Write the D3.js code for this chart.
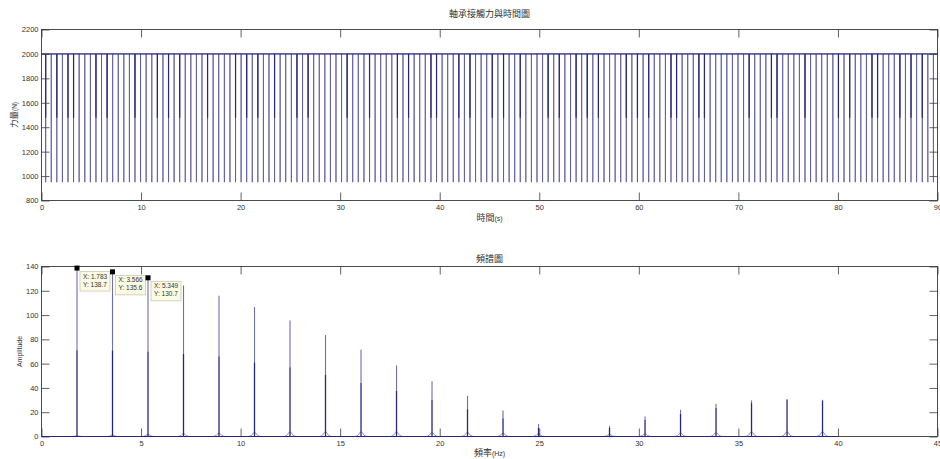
<!DOCTYPE html>
<html>
<head>
<meta charset="utf-8">
<script src="https://cdn.jsdelivr.net/npm/d3@7"></script>
<style>
  html, body { margin: 0; padding: 0; background: #fff; }
  svg { display: block; }
  text { font-family: "Liberation Sans", Arial, "Noto Sans CJK TC", sans-serif; fill: #333; }
  .cjk { font-family: "Noto Sans CJK TC", "Noto Sans CJK SC", sans-serif; }
</style>
</head>
<body>
<svg id="chart" width="940" height="459"></svg>
<script>
// ---- Contact force record: one dip per ball pass (s) ----
const pulseTimes = [
  0.42, 0.98, 1.54, 2.10, 2.66, 3.22, 3.78, 4.35, 4.91, 5.47,
  6.03, 6.59, 7.15, 7.71, 8.27, 8.83, 9.39, 9.95, 10.51, 11.08,
  11.64, 12.20, 12.76, 13.32, 13.88, 14.44, 15.00, 15.56, 16.12, 16.68,
  17.24, 17.80, 18.37, 18.93, 19.49, 20.05, 20.61, 21.17, 21.73, 22.29,
  22.85, 23.41, 23.97, 24.53, 25.10, 25.66, 26.22, 26.78, 27.34, 27.90,
  28.46, 29.02, 29.58, 30.14, 30.70, 31.26, 31.82, 32.39, 32.95, 33.51,
  34.07, 34.63, 35.19, 35.75, 36.31, 36.87, 37.43, 37.99, 38.55, 39.12,
  39.68, 40.24, 40.80, 41.36, 41.92, 42.48, 43.04, 43.60, 44.16, 44.72,
  45.28, 45.84, 46.41, 46.97, 47.53, 48.09, 48.65, 49.21, 49.77, 50.33,
  50.89, 51.45, 52.01, 52.57, 53.14, 53.70, 54.26, 54.82, 55.38, 55.94,
  56.50, 57.06, 57.62, 58.18, 58.74, 59.30, 59.86, 60.43, 60.99, 61.55,
  62.11, 62.67, 63.23, 63.79, 64.35, 64.91, 65.47, 66.03, 66.59, 67.16,
  67.72, 68.28, 68.84, 69.40, 69.96, 70.52, 71.08, 71.64, 72.20, 72.76,
  73.32, 73.88, 74.45, 75.01, 75.57, 76.13, 76.69, 77.25, 77.81, 78.37,
  78.93, 79.49, 80.05, 80.61, 81.18, 81.74, 82.30, 82.86, 83.42, 83.98,
  84.54, 85.10, 85.66, 86.22, 86.78, 87.34, 87.90, 88.47, 89.03, 89.59
];
// force levels (N): steady contact, intermediate sample, dip floor
const forceLevels = [2000, 1477, 950];
// dips whose record holds an intermediate sample on the way down
const stepPulses = [0, 2, 4, 5, 9, 11, 16, 20, 22, 24, 29, 34, 36, 38, 41, 45, 47,
  54, 58, 63, 65, 69, 70, 74, 76, 80, 82, 85, 90, 92, 95, 97, 99, 104,
  106, 108, 112, 113, 117, 118, 126, 130, 131, 136, 142, 144, 148, 149, 153, 155, 157];
const timeDomain = [0, 90];
const timeTicks = [0, 10, 20, 30, 40, 50, 60, 70, 80, 90];
const forceDomain = [800, 2200];
const forceTicks = [800, 1000, 1200, 1400, 1600, 1800, 2000, 2200];

// ---- Spectrum: harmonics of the ball-pass frequency ----
const harmonicFreq = [1.783, 3.566, 5.349, 7.132, 8.915, 10.698, 12.481, 14.264, 16.047, 17.830, 19.613,
  21.396, 23.179, 24.962, 26.745, 28.528, 30.311, 32.094, 33.877, 35.660, 37.443, 39.226];
const peakAmp = [138.7, 135.6, 130.7, 124.4, 116.0, 106.6, 95.6, 83.5, 71.4, 58.5, 45.6,
  33.5, 21.4, 10.2, 0, 8.8, 16.5, 22.0, 27.0, 29.7, 30.8, 30.2];
const shoulderAmp = [71.0, 71.0, 70.0, 68.0, 66.0, 61.0, 57.0, 51.0, 44.0, 37.6, 30.2,
  22.5, 15.1, 7.4, 0, 7.0, 13.8, 18.7, 23.4, 27.5, 30.2, 29.6];
const leakAmp = [0.5, 1.0, 1.5, 2.0, 2.5, 3.0, 3.5, 3.5, 3.5, 3.5, 3.0,
  3.0, 2.5, 2.0, 0, 1.5, 2.0, 2.5, 3.0, 3.5, 3.5, 3.5];
const spectrumRange = [0, 40];
const freqDomain = [0, 45];
const freqTicks = [0, 5, 10, 15, 20, 25, 30, 35, 40, 45];
const ampDomain = [0, 140];
const ampTicks = [0, 20, 40, 60, 80, 100, 120, 140];
const tipIndex = [0, 1, 2];

const titles = { top: "軸承接觸力與時間圖", bottom: "頻譜圖" };

// ---- drawing ----
const svg = d3.select("#chart");
const DARK = "#26267f";
const MID = "#5a5aa4";
const LIGHT = "#8a8abd";
const AXIS = "#3a3a3a";

const left = 41.5, right = 937.5;
const topPanel = { y0: 29.5, y1: 200.5 };
const botPanel = { y0: 266.5, y1: 436.5 };

function frame(g, x, y, y0, y1, xt, yt) {
  const tick = 8;
  g.append("g").attr("transform", `translate(0,${y1})`)
    .call(d3.axisBottom(x).tickValues(xt).tickSize(-tick).tickPadding(4).tickFormat(d3.format("d")))
    .call(a => a.select(".domain").remove());
  g.append("g").attr("transform", `translate(0,${y0})`)
    .call(d3.axisTop(x).tickValues(xt).tickSize(-tick).tickFormat(""))
    .call(a => a.select(".domain").remove());
  g.append("g").attr("transform", `translate(${left},0)`)
    .call(d3.axisLeft(y).tickValues(yt).tickSize(-tick).tickPadding(3).tickFormat(d3.format("d")))
    .call(a => a.select(".domain").remove());
  g.append("g").attr("transform", `translate(${right},0)`)
    .call(d3.axisRight(y).tickValues(yt).tickSize(-tick).tickFormat(""))
    .call(a => a.select(".domain").remove());
  g.selectAll(".tick line").attr("stroke", AXIS).attr("stroke-width", 0.8);
  g.selectAll(".tick text").attr("font-size", 7.5).attr("fill", "#333")
    .attr("font-family", "'Liberation Sans', Arial, sans-serif");
  g.append("rect")
    .attr("x", left).attr("y", y0).attr("width", right - left).attr("height", y1 - y0)
    .attr("fill", "none").attr("stroke", AXIS).attr("stroke-width", 0.9);
}

// ---- top panel: force vs time ----
{
  const g = svg.append("g");
  const x = d3.scaleLinear().domain(timeDomain).range([left, right]);
  const y = d3.scaleLinear().domain(forceDomain).range([topPanel.y1, topPanel.y0]);
  const [hi, mid, lo] = forceLevels;
  const stepSet = new Set(stepPulses);

  // full dips, drawn thin so their shade follows the sub-pixel position
  const pts = [[timeDomain[0], hi]];
  pulseTimes.forEach(t => {
    pts.push([t, hi], [t, lo], [t, hi]);
  });
  pts.push([timeDomain[1], hi]);
  const line = d3.line().x(d => x(d[0])).y(d => y(d[1]));
  g.append("path").attr("d", line(pts))
    .attr("fill", "none").attr("stroke", MID).attr("stroke-width", 0.85);

  // stepped dips: dark upper stretch down to the intermediate sample
  g.selectAll("line.step").data(pulseTimes.filter((t, i) => stepSet.has(i))).join("line")
    .attr("class", "step")
    .attr("x1", d => x(d)).attr("x2", d => x(d))
    .attr("y1", y(hi)).attr("y2", y(mid))
    .attr("stroke", DARK).attr("stroke-width", 1.2);

  // steady contact level
  g.append("line").attr("x1", x(timeDomain[0])).attr("x2", x(timeDomain[1]))
    .attr("y1", y(hi)).attr("y2", y(hi)).attr("stroke", DARK).attr("stroke-width", 1);

  frame(g, x, y, topPanel.y0, topPanel.y1, timeTicks, forceTicks);

  svg.append("text").attr("class", "cjk").attr("x", (left + right) / 2).attr("y", 16.5)
    .attr("text-anchor", "middle").attr("font-size", 9).text(titles.top);
  const xl = svg.append("text").attr("x", (left + right) / 2).attr("y", 220.5)
    .attr("text-anchor", "middle");
  xl.append("tspan").attr("class", "cjk").attr("font-size", 9).text("時間");
  xl.append("tspan").attr("font-size", 7).text("(s)");
  const yl = svg.append("text")
    .attr("transform", `translate(16.5,${(topPanel.y0 + topPanel.y1) / 2}) rotate(-90)`)
    .attr("text-anchor", "middle");
  yl.append("tspan").attr("class", "cjk").attr("font-size", 8.5).text("力量");
  yl.append("tspan").attr("font-size", 6.5).text("(N)");
}

// ---- bottom panel: amplitude spectrum ----
{
  const g = svg.append("g");
  const x = d3.scaleLinear().domain(freqDomain).range([left, right]);
  const y = d3.scaleLinear().domain(ampDomain).range([botPanel.y1, botPanel.y0]);

  // baseline with small leakage skirts around each harmonic
  const skirt = [[spectrumRange[0], 0]];
  harmonicFreq.forEach((f, i) => {
    if (peakAmp[i] <= 0) return;
    skirt.push([f - 0.32, 0], [f - 0.14, leakAmp[i] * 0.35], [f - 0.04, leakAmp[i]],
               [f + 0.04, leakAmp[i]], [f + 0.14, leakAmp[i] * 0.35], [f + 0.32, 0]);
  });
  skirt.push([spectrumRange[1], 0]);
  g.append("path")
    .attr("d", d3.line().x(d => x(d[0])).y(d => y(d[1])).curve(d3.curveMonotoneX)(skirt))
    .attr("fill", "none").attr("stroke", "#7a7ab0").attr("stroke-width", 0.9);

  const spikes = harmonicFreq.map((f, i) => ({ f, peak: peakAmp[i], shoulder: shoulderAmp[i] }))
    .filter(d => d.peak > 0);
  g.selectAll("line.upper").data(spikes).join("line")
    .attr("class", "upper")
    .attr("x1", d => x(d.f)).attr("x2", d => x(d.f))
    .attr("y1", d => y(d.shoulder)).attr("y2", d => y(d.peak))
    .attr("stroke", "#6e6eb0").attr("stroke-width", 1.1);
  g.selectAll("line.lower").data(spikes).join("line")
    .attr("class", "lower")
    .attr("x1", d => x(d.f)).attr("x2", d => x(d.f))
    .attr("y1", y(0)).attr("y2", d => y(d.shoulder))
    .attr("stroke", DARK).attr("stroke-width", 1.3);

  frame(g, x, y, botPanel.y0, botPanel.y1, freqTicks, ampTicks);

  // spectrum baseline over the axis
  g.append("line").attr("x1", x(spectrumRange[0])).attr("x2", x(spectrumRange[1]))
    .attr("y1", y(0)).attr("y2", y(0)).attr("stroke", DARK).attr("stroke-width", 1.1);

  // data tips
  const tips = g.selectAll("g.tip").data(tipIndex).join("g").attr("class", "tip")
    .attr("transform", i => `translate(${x(harmonicFreq[i])},${y(peakAmp[i])})`);
  tips.append("rect").attr("x", 3).attr("y", 3.5).attr("width", 30).attr("height", 19.5)
    .attr("fill", "#fbfbe4").attr("stroke", "#c9c9b4").attr("stroke-width", 0.8);
  tips.append("text").attr("x", 6).attr("y", 10.5).attr("font-size", 6.5).attr("fill", "#444")
    .text(i => "X: " + harmonicFreq[i]);
  tips.append("text").attr("x", 6).attr("y", 18.5).attr("font-size", 6.5).attr("fill", "#444")
    .text(i => "Y: " + peakAmp[i]);
  tips.append("rect").attr("x", -2.5).attr("y", -2.5).attr("width", 5).attr("height", 5)
    .attr("fill", "#000");

  svg.append("text").attr("class", "cjk").attr("x", (left + right) / 2).attr("y", 261.5)
    .attr("text-anchor", "middle").attr("font-size", 9).text(titles.bottom);
  const xl = svg.append("text").attr("x", (left + right) / 2).attr("y", 455.5)
    .attr("text-anchor", "middle");
  xl.append("tspan").attr("class", "cjk").attr("font-size", 9).text("頻率");
  xl.append("tspan").attr("font-size", 7).text("(Hz)");
  svg.append("text")
    .attr("transform", `translate(21.5,${(botPanel.y0 + botPanel.y1) / 2}) rotate(-90)`)
    .attr("text-anchor", "middle").attr("font-size", 7).text("Amplitude");
}
</script>
</body>
</html>
